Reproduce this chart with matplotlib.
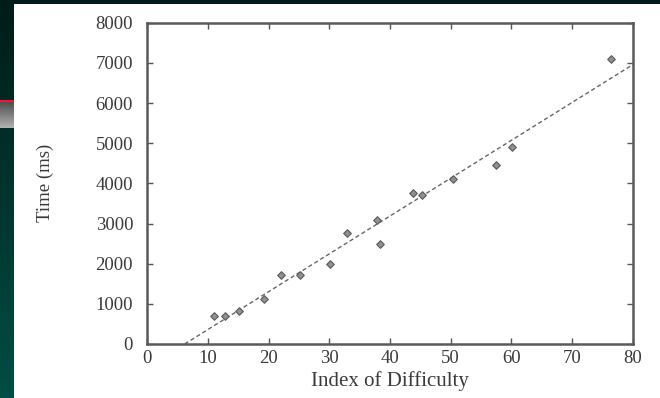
import numpy as np
import matplotlib
matplotlib.use("Agg")
import matplotlib.pyplot as plt

# Data
index_of_difficulty = [11.1, 12.8, 15.2, 19.2, 22.0, 25.2, 30.2, 32.9, 37.9, 38.3,
                       43.8, 45.2, 50.3, 57.4, 60.1, 76.3]
time_ms = [705, 705, 830, 1112, 1726, 1710, 1983, 2772, 3087, 2481,
           3751, 3710, 4116, 4465, 4896, 7104]
fit_slope = 94.3
fit_intercept = -585
x_ticks = [0, 10, 20, 30, 40, 50, 60, 70, 80]
y_ticks = [0, 1000, 2000, 3000, 4000, 5000, 6000, 7000, 8000]

W, H = 660, 398
fig = plt.figure(figsize=(W / 100, H / 100), dpi=100)

# Slide background
bg = fig.add_axes([0, 0, 1, 1], zorder=0)
img = np.zeros((H, W, 3))
t = np.linspace(0, 1, H)[:, None]
top = np.array([0x00, 0x1c, 0x18]) / 255
bot = np.array([0x00, 0x4e, 0x44]) / 255
img[:] = (top[None, None, :] * (1 - t[..., None]) + bot[None, None, :] * t[..., None])
# red stripe and grey bar at left
img[100:102, :14] = np.array([0xff, 0x10, 0x30]) / 255
g = np.linspace(0x50, 0xb0, 26) / 255
img[102:128, :14] = g[:, None, None]
# white panel
img[4:, 14:] = 1.0
bg.imshow(img, extent=[0, W, H, 0], aspect="auto", interpolation="nearest")
bg.set_xlim(0, W)
bg.set_ylim(H, 0)
bg.axis("off")

ax = fig.add_axes([147 / W, (H - 344) / H, (633 - 147) / W, (344 - 22.7) / H], zorder=1)
ax.patch.set_alpha(0)

serif = ["Liberation Serif", "DejaVu Serif"]
txtc = "#3a3a3a"

ax.scatter(index_of_difficulty, time_ms, marker="D", s=15, facecolor="#909090",
           edgecolor="#5a5a5a", linewidths=0.8, zorder=3, clip_on=False)

xs = np.array([-fit_intercept / fit_slope, 80])
ax.plot(xs, fit_slope * xs + fit_intercept, linestyle=(0, (3, 2)), color="#666666",
        linewidth=1.0, zorder=2)

ax.set_xlim(0, 80)
ax.set_ylim(0, 8000)
ax.set_xticks(x_ticks)
ax.set_yticks(y_ticks)
ax.set_xticklabels([str(v) for v in x_ticks], family=serif, fontsize=13.5, color=txtc)
ax.set_yticklabels([str(v) for v in y_ticks], family=serif, fontsize=13.5, color=txtc)
ax.tick_params(direction="in", length=4, width=1.0, color="#555555",
               top=True, right=True)
ax.tick_params(axis="y", pad=10)
ax.tick_params(axis="x", pad=4)
for s in ax.spines.values():
    s.set_color("#5a5a5a")
    s.set_linewidth(1.8)

ax.set_xlabel("Index of Difficulty", family=serif, fontsize=15, color=txtc, labelpad=3)
ax.set_ylabel("Time (ms)", family=serif, fontsize=13.5, color=txtc, labelpad=30)

fig.savefig("out.png", dpi=100, facecolor="#001c18")
